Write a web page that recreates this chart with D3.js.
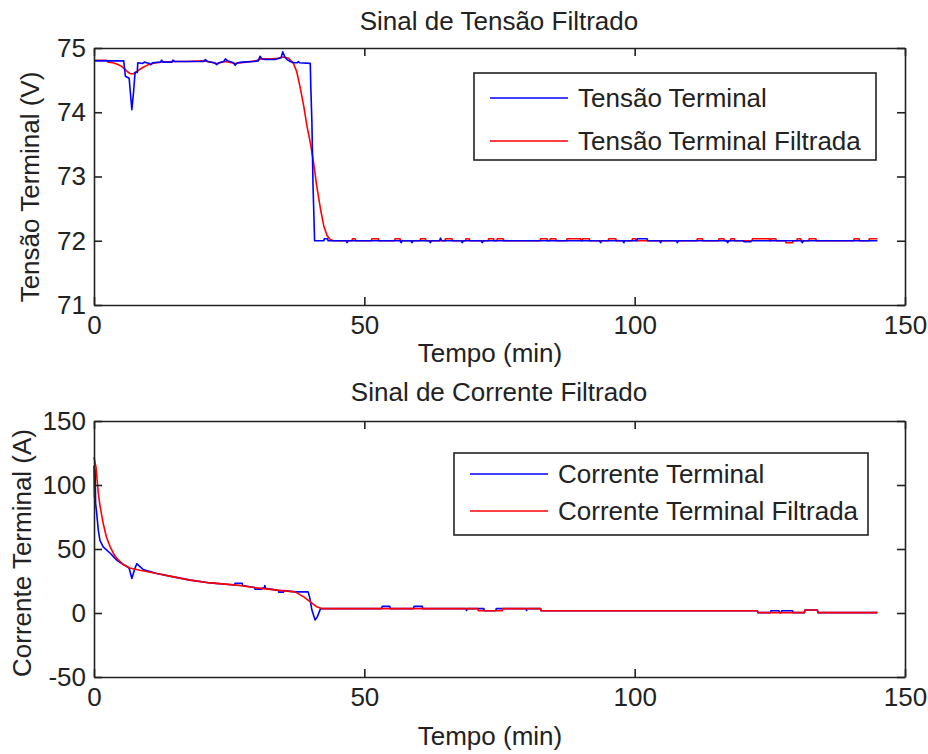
<!DOCTYPE html>
<html><head><meta charset="utf-8">
<script src="https://cdn.jsdelivr.net/npm/d3@7"></script>
<style>
body{margin:0;background:#fff;}
svg text{font-family:"Liberation Sans",Arial,sans-serif;fill:#222;}
</style></head>
<body><svg id="c" width="928" height="754"></svg>
<script>
// ---------- DATA ----------
const xTicks = [0, 50, 100, 150];
const tensaoTicks = [71, 72, 73, 74, 75];
const correnteTicks = [-50, 0, 50, 100, 150];

// Tensão Terminal (V)
const tensaoT = [0,5.5,5.8,6.5,7.0,7.3,7.6,8.0,8.1,9.0,9.3,10.3,10.5,10.8,12.3,12.5,12.8,14.4,14.6,14.9,20.3,20.6,21.0,22.3,22.7,23.1,24.0,24.3,24.7,25.8,26.1,26.5,27.5,29.5,30.4,30.7,31.1,31.6,33.5,34.6,34.9,35.3,35.7,36.3,37.0,37.6,37.8,38.0,40.0,40.1,40.3,40.5,40.8,
 42.5,42.6,43.2,43.3,46.6,46.8,47.0,56.6,56.8,57.0,58.6,58.8,59.0,62.0,62.2,62.4,63.9,64.1,64.3,67.9,68.1,68.3,71.6,71.8,72.0,93.5,93.7,93.9,97.8,98.0,98.2,100.4,100.5,102.3,102.4,104.6,104.8,105.0,107.7,107.9,108.1,117.0,117.2,117.4,120.1,120.2,121.5,121.6,130.8,131.0,131.2,144.9];
const tensaoV = [74.80,74.80,74.56,74.53,74.04,74.30,74.62,74.62,74.77,74.76,74.78,74.76,74.74,74.77,74.78,74.81,74.78,74.78,74.81,74.79,74.79,74.82,74.79,74.77,74.74,74.77,74.79,74.83,74.80,74.77,74.73,74.77,74.78,74.79,74.80,74.87,74.83,74.82,74.82,74.85,74.94,74.86,74.82,74.79,74.77,74.77,74.79,74.77,74.76,74.40,73.85,72.90,72.00,
 72.00,72.03,72.03,72.00,72.00,71.97,72.00,72.00,71.97,72.00,72.00,71.97,72.00,72.00,71.97,72.00,72.00,72.04,72.00,72.00,71.97,72.00,72.00,71.97,72.00,72.00,71.97,72.00,72.00,71.97,72.00,72.00,72.03,72.03,72.00,72.00,71.97,72.00,72.00,71.97,72.00,72.00,71.97,72.00,72.00,71.985,71.985,72.00,72.00,71.97,72.00,72.00];

// Tensão Terminal Filtrada (V)
const tensaoFiltT = [0,2.3,2.6,3.5,4.2,5.0,5.6,6.2,6.7,7.3,7.9,8.5,9.1,9.8,10.5,11.5,12.5,15.0,17.0,20.5,22.7,24.3,26.1,28.0,30.0,30.8,32.5,34.0,35.0,36.0,36.9,37.5,38.1,38.8,39.4,40.0,40.6,41.2,41.9,42.5,43.1,43.7,44.3,
 47.7,47.8,48.3,48.4,51.3,51.4,52.6,52.7,55.6,55.7,56.6,56.7,60.3,60.4,61.3,61.4,64.9,65.0,66.2,66.3,68.7,68.8,69.4,69.5,72.9,73.0,73.9,74.0,74.5,74.6,75.7,75.8,82.5,82.6,83.8,83.9,84.3,84.4,85.4,85.5,87.4,87.5,90.0,90.1,90.3,90.4,91.6,91.7,95.1,95.2,96.5,96.6,99.5,99.6,100.2,100.3,111.5,111.6,112.5,112.6,115.5,115.6,116.5,116.6,117.7,117.8,118.4,118.5,121.7,121.8,124.9,125.0,125.1,125.2,126.1,126.2,127.9,128.0,129.2,129.3,130.0,130.1,130.7,130.8,132.2,132.3,133.5,133.6,140.5,140.6,141.5,141.6,143.3,143.4,144.9];
const tensaoFiltV = [74.81,74.81,74.78,74.77,74.75,74.72,74.68,74.63,74.60,74.60,74.63,74.67,74.70,74.73,74.75,74.77,74.78,74.79,74.79,74.80,74.76,74.79,74.76,74.78,74.80,74.83,74.83,74.84,74.86,74.84,74.76,74.63,74.40,74.09,73.78,73.53,73.22,72.85,72.49,72.23,72.08,72.02,72.00,
 72.00,72.03,72.03,72.00,72.00,72.03,72.03,72.00,72.00,72.03,72.03,72.00,72.00,72.03,72.03,72.00,72.00,72.03,72.03,72.00,72.00,72.03,72.03,72.00,72.00,72.03,72.03,72.00,72.00,72.03,72.03,72.00,72.00,72.03,72.03,72.00,72.00,72.03,72.03,72.00,72.00,72.03,72.03,72.00,72.00,72.03,72.03,72.00,72.00,72.03,72.03,72.00,72.00,72.03,72.03,72.00,72.00,72.03,72.03,72.00,72.00,72.03,72.03,72.00,72.00,72.03,72.03,72.00,72.00,72.03,72.03,72.00,72.00,72.03,72.03,72.00,72.00,71.97,71.97,72.00,72.00,72.03,72.03,72.00,72.00,72.03,72.03,72.00,72.00,72.03,72.03,72.00,72.00,72.03,72.03];

// Corrente Terminal (A)
const correnteT = [0,0.1,0.2,0.3,0.45,0.8,1.1,1.7,3.0,4.2,5.4,6.0,6.5,7.0,7.5,7.9,8.3,9.1,11.6,14.7,17.8,21.5,26.0,26.1,27.4,27.5,29.7,29.8,31.0,31.1,31.5,31.6,31.7,33.8,34.1,34.2,35.0,35.1,37.2,39.6,39.9,40.3,40.9,41.3,41.9,
 53.2,53.3,54.7,54.8,59.1,59.2,60.7,60.8,68.8,68.9,69.0,72.1,72.2,74.3,74.4,79.9,80.0,80.1,82.6,82.7,122.7,122.8,125.1,125.2,126.7,126.8,127.1,127.2,129.2,129.3,131.4,131.5,133.8,133.9,144.9];
const correnteV = [115,90,112,85,80,64.6,56.8,51.6,46.7,41.3,37.9,36.4,35,27,34,38.5,37,34,30.9,28.2,25.7,23.5,21.9,23.2,23.2,21.5,19.9,18.5,18.5,19.5,19.4,21.5,19.3,17.9,17.6,16.3,16.3,17.5,16.5,16.5,12,2.3,-5.5,-3,3.4,
 3.4,5.2,5.2,3.4,3.4,5.2,5.2,3.4,3.4,2.0,3.4,3.4,1.8,1.8,3.4,3.4,2.0,3.4,3.4,1.7,1.7,0.3,0.3,1.7,1.7,0.3,0.3,1.7,1.7,0.3,0.3,2.3,2.3,0.3,0.3];

// Corrente Terminal Filtrada (A)
const correnteFiltT = [0,0.37,0.8,1.1,1.7,2.3,3.0,3.6,4.2,5.4,6.6,8.5,11.6,14.7,17.8,21.5,26.4,30.1,33.8,37.2,38.8,40.0,41.2,42.2,71.0,71.1,75.5,75.6,82.6,82.7,122.7,122.8,131.4,131.5,133.8,133.9,144.9];
const correnteFiltV = [121.8,114,93.5,84.1,69.9,59.4,51.6,46.5,42.6,38.1,35.2,33.4,30.9,28.2,25.7,23.5,21.8,19.6,17.9,16.5,12.6,8.7,4.8,3.4,3.4,1.8,1.8,3.4,3.4,1.7,1.7,0.3,0.3,2.3,2.3,0.3,0.3];

// ---------- DRAW ----------
const svg = d3.select("#c");
const FS = 26;
const frameColor = "#222";
const FONT = '"Liberation Sans",Arial,sans-serif';

function panel(cfg) {
  const x = d3.scaleLinear().domain([0, 150]).range([94, 905]);
  const y = d3.scaleLinear().domain(cfg.yDomain).range([cfg.bottom, cfg.top]);
  const g = svg.append("g");

  const line = d3.line().x(d => x(d[0])).y(d => y(d[1]));
  cfg.drawOrder.forEach(idx => {
    const s = cfg.series[idx];
    const pts = s.t.map((t, i) => [t, s.v[i]]);
    g.append("path").datum(pts).attr("d", line)
      .attr("fill", "none").attr("stroke", s.color).attr("stroke-width", 1.6)
      .attr("stroke-linejoin", "round");
  });

  const fmt = d => String(d);
  const styleAxis = sel => {
    sel.selectAll("path.domain").attr("stroke", frameColor).attr("stroke-width", 1.6);
    sel.selectAll(".tick line").attr("stroke", frameColor).attr("stroke-width", 1.6);
    sel.selectAll("text").attr("font-size", FS).attr("fill", "#222").attr("font-family", FONT);
  };
  g.append("g").attr("transform", `translate(0,${cfg.bottom})`)
    .call(d3.axisBottom(x).tickValues(xTicks).tickFormat(fmt).tickSizeInner(-8).tickSizeOuter(0).tickPadding(11))
    .call(styleAxis);
  g.append("g").attr("transform", `translate(0,${cfg.top})`)
    .call(d3.axisTop(x).tickValues(xTicks).tickFormat("").tickSizeInner(-8).tickSizeOuter(0))
    .call(styleAxis);
  g.append("g").attr("transform", `translate(${x(0)},0)`)
    .call(d3.axisLeft(y).tickValues(cfg.yTicks).tickFormat(fmt).tickSizeInner(-8).tickSizeOuter(0).tickPadding(8))
    .call(styleAxis);
  g.append("g").attr("transform", `translate(${x(150)},0)`)
    .call(d3.axisRight(y).tickValues(cfg.yTicks).tickFormat("").tickSizeInner(-8).tickSizeOuter(0))
    .call(styleAxis);

  g.append("text").attr("x", 499).attr("y", cfg.top - cfg.titleGap).attr("text-anchor", "middle")
    .attr("font-size", FS).text(cfg.title);
  g.append("text").attr("x", 490).attr("y", cfg.bottom + cfg.xlabGap).attr("text-anchor", "middle")
    .attr("font-size", FS).text("Tempo (min)");
  g.append("text").attr("transform", `translate(${cfg.ylabX},${cfg.ylabY}) rotate(-90)`)
    .attr("text-anchor", "middle").attr("font-size", FS).text(cfg.ylabel);

  const L = cfg.legend;
  g.append("rect").attr("x", L.x).attr("y", L.y).attr("width", L.w).attr("height", L.h)
    .attr("fill", "#fff").attr("stroke", frameColor).attr("stroke-width", 1.6);
  cfg.series.forEach((s, i) => {
    const ly = L.y + L.row0 + i * L.dy;
    g.append("line").attr("x1", L.x + 16).attr("x2", L.x + 94).attr("y1", ly).attr("y2", ly)
      .attr("stroke", s.color).attr("stroke-width", 1.6);
    g.append("text").attr("x", L.x + 104).attr("y", ly).attr("dy", "0.36em")
      .attr("font-size", FS).text(s.name);
  });
}

panel({
  yDomain: [71, 75], yTicks: tensaoTicks, top: 48, bottom: 305, titleGap: 18, xlabGap: 57,
  title: "Sinal de Tensão Filtrado", ylabel: "Tensão Terminal (V)", ylabX: 39, ylabY: 187,
  series: [
    {name: "Tensão Terminal", t: tensaoT, v: tensaoV, color: "#0000ff"},
    {name: "Tensão Terminal Filtrada", t: tensaoFiltT, v: tensaoFiltV, color: "#ff0000"}
  ],
  drawOrder: [1, 0],
  legend: {x: 474, y: 73, w: 402, h: 87, row0: 25, dy: 43}
});

panel({
  yDomain: [-50, 150], yTicks: correnteTicks, top: 421, bottom: 677, titleGap: 20, xlabGap: 68,
  title: "Sinal de Corrente Filtrado", ylabel: "Corrente Terminal (A)", ylabX: 31, ylabY: 553,
  series: [
    {name: "Corrente Terminal", t: correnteT, v: correnteV, color: "#0000ff"},
    {name: "Corrente Terminal Filtrada", t: correnteFiltT, v: correnteFiltV, color: "#ff0000"}
  ],
  drawOrder: [0, 1],
  legend: {x: 454, y: 453, w: 414, h: 82, row0: 21, dy: 37}
});
</script></body></html>
